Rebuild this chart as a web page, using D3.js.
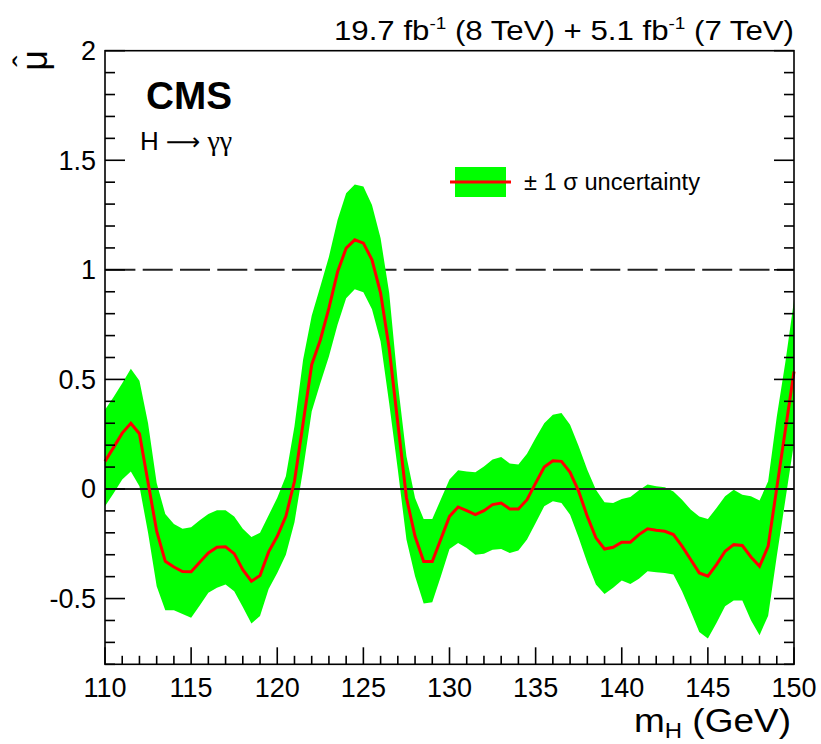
<!DOCTYPE html>
<html>
<head>
<meta charset="utf-8">
<script src="https://cdn.jsdelivr.net/npm/d3@7"></script>
<style>
  body { margin: 0; background: #fff; }
  svg { display: block; }
  text { font-family: "Liberation Sans", Arial, Helvetica, sans-serif; fill: #000; }
</style>
</head>
<body>
<svg id="chart" width="821" height="744"></svg>
<script>
// ---- data ----
const massPoints = [110,110.5,111,111.5,112,112.5,113,113.5,114,114.5,115,115.5,116,116.5,117,117.5,118,118.5,119,119.5,
  120,120.5,121,121.5,122,122.5,123,123.5,124,124.5,125,125.5,126,126.5,127,127.5,128,128.5,129,129.5,
  130,130.5,131,131.5,132,132.5,133,133.5,134,134.5,135,135.5,136,136.5,137,137.5,138,138.5,139,139.5,
  140,140.5,141,141.5,142,142.5,143,143.5,144,144.5,145,145.5,146,146.5,147,147.5,148,148.5,149,149.5,150];
const muBestFit = [0.126,0.19,0.255,0.30,0.252,0.03,-0.193,-0.33,-0.356,-0.377,-0.378,-0.334,-0.292,-0.266,-0.264,-0.295,-0.368,-0.421,-0.395,-0.287,
  -0.216,-0.125,0.035,0.30,0.567,0.68,0.825,0.99,1.099,1.137,1.122,1.046,0.894,0.64,0.30,-0.04,-0.216,-0.331,-0.331,-0.228,
  -0.125,-0.082,-0.099,-0.117,-0.099,-0.071,-0.064,-0.091,-0.091,-0.049,0.027,0.10,0.129,0.126,0.076,-0.011,-0.125,-0.223,-0.274,-0.266,
  -0.243,-0.243,-0.208,-0.182,-0.188,-0.193,-0.208,-0.261,-0.322,-0.383,-0.398,-0.345,-0.284,-0.254,-0.258,-0.31,-0.353,-0.261,0.005,0.27,0.536];
const muLow = [-0.079,-0.02,0.043,0.08,0.012,-0.2,-0.444,-0.553,-0.553,-0.57,-0.588,-0.532,-0.474,-0.451,-0.436,-0.467,-0.538,-0.614,-0.58,-0.456,
  -0.383,-0.30,-0.152,0.088,0.354,0.483,0.605,0.75,0.87,0.912,0.898,0.82,0.673,0.39,0.088,-0.231,-0.398,-0.523,-0.517,-0.398,
  -0.274,-0.246,-0.269,-0.30,-0.295,-0.277,-0.274,-0.292,-0.281,-0.231,-0.155,-0.079,-0.056,-0.064,-0.117,-0.223,-0.337,-0.436,-0.479,-0.451,
  -0.418,-0.433,-0.41,-0.375,-0.38,-0.383,-0.39,-0.467,-0.558,-0.653,-0.682,-0.611,-0.535,-0.509,-0.509,-0.599,-0.667,-0.578,-0.307,-0.049,0.21];
const muHigh = [0.362,0.42,0.483,0.549,0.494,0.30,0.027,-0.114,-0.16,-0.182,-0.175,-0.143,-0.114,-0.097,-0.097,-0.125,-0.182,-0.219,-0.20,-0.12,
  -0.04,0.058,0.286,0.59,0.79,0.924,1.06,1.228,1.35,1.39,1.38,1.296,1.144,0.894,0.483,0.149,-0.041,-0.137,-0.137,-0.047,
  0.043,0.085,0.08,0.076,0.103,0.134,0.146,0.116,0.112,0.161,0.233,0.30,0.339,0.347,0.293,0.195,0.088,-0.003,-0.06,-0.064,
  -0.046,-0.036,-0.006,0.02,0.012,0.008,-0.011,-0.049,-0.094,-0.125,-0.137,-0.087,-0.033,-0.003,-0.026,-0.033,-0.053,0.035,0.33,0.58,0.86];
const xTickValues = [110,115,120,125,130,135,140,145,150];
const xTickLabels = ["110","115","120","125","130","135","140","145","150"];
const yTickValues = [-0.5,0,0.5,1,1.5,2];
const yTickLabels = ["-0.5","0","0.5","1","1.5","2"];
const referenceLines = [0, 1];

// ---- layout ----
const svg = d3.select("#chart");
const x = d3.scaleLinear().domain([110,150]).range([105,794]);
const y = d3.scaleLinear().domain([-0.8,2]).range([664.3,50.7]);

const rows = massPoints.map((m,i)=>({m, c: muBestFit[i], lo: muLow[i], hi: muHigh[i]}));

// dashed line at mu = 1 (beneath the band)
svg.append("line")
  .attr("x1", x(110)).attr("x2", x(150))
  .attr("y1", y(referenceLines[1])).attr("y2", y(referenceLines[1]))
  .attr("stroke", "#222").attr("stroke-width", 2)
  .attr("stroke-dasharray", "30,7.3").attr("stroke-dashoffset", -0.4);

// band
const area = d3.area().x(d=>x(d.m)).y0(d=>y(d.lo)).y1(d=>y(d.hi));
svg.append("path").datum(rows).attr("d", area).attr("fill", "#00ff00");

// zero line
svg.append("line")
  .attr("x1", x(110)).attr("x2", x(150))
  .attr("y1", y(referenceLines[0])).attr("y2", y(referenceLines[0]))
  .attr("stroke", "#222").attr("stroke-width", 2);

// central line
const line = d3.line().x(d=>x(d.m)).y(d=>y(d.c));
svg.append("path").datum(rows).attr("d", line)
  .attr("fill","none").attr("stroke","#ff0000").attr("stroke-width",3).attr("stroke-linejoin","miter");

// ---- frame and ticks ----
const frame = svg.append("g").attr("stroke","#000").attr("stroke-width",1.6).attr("fill","none");
frame.append("rect").attr("x", x(110)).attr("y", y(2)).attr("width", x(150)-x(110)).attr("height", y(-0.8)-y(2));

const yMinor = d3.range(-8, 21).map(k => k/10);
yMinor.forEach(v => {
  const major = Math.abs(v*2 - Math.round(v*2)) < 1e-6;
  const len = major ? 20 : 10;
  frame.append("line").attr("x1", x(110)).attr("x2", x(110)+len).attr("y1", y(v)).attr("y2", y(v));
  frame.append("line").attr("x1", x(150)).attr("x2", x(150)-len).attr("y1", y(v)).attr("y2", y(v));
});
d3.range(110, 151, 1).forEach(v => {
  const len = (v % 5 === 0) ? 17 : 8.5;
  frame.append("line").attr("x1", x(v)).attr("x2", x(v)).attr("y1", y(-0.8)).attr("y2", y(-0.8)-len);
});

// tick labels
svg.append("g").selectAll("text").data(yTickValues).join("text")
  .attr("x", 96).attr("y", d => y(d) + 9.5)
  .attr("text-anchor","end").attr("font-size", 27)
  .text((d,i) => yTickLabels[i]);
svg.append("g").selectAll("text").data(xTickValues).join("text")
  .attr("x", d => x(d)).attr("y", 697)
  .attr("text-anchor","middle").attr("font-size", 27)
  .text((d,i) => xTickLabels[i]);

// axis titles
const xt = svg.append("text").attr("x", 791).attr("y", 732).attr("text-anchor","end").attr("font-size", 34)
  .attr("textLength", 157).attr("lengthAdjust", "spacingAndGlyphs");
xt.append("tspan").text("m");
xt.append("tspan").attr("font-size", 22).attr("dy", 6).text("H");
xt.append("tspan").attr("dy", -6).text(" (GeV)");

svg.append("text").attr("transform","translate(47,50) rotate(-90)")
  .attr("text-anchor","end").attr("font-size", 36).text("μ");
svg.append("text").attr("transform","translate(37,61) rotate(-90)")
  .attr("text-anchor","middle").attr("font-size", 34).text("ˆ");

// top luminosity text
const lumi = svg.append("text").attr("x", 794).attr("y", 40).attr("text-anchor","end").attr("font-size", 28)
  .attr("textLength", 460).attr("lengthAdjust", "spacingAndGlyphs");
lumi.append("tspan").text("19.7 fb");
lumi.append("tspan").attr("font-size", 17).attr("dy", -11).text("-1");
lumi.append("tspan").attr("dy", 11).text(" (8 TeV) + 5.1 fb");
lumi.append("tspan").attr("font-size", 17).attr("dy", -11).text("-1");
lumi.append("tspan").attr("dy", 11).text(" (7 TeV)");

// CMS label
svg.append("text").attr("x", 146).attr("y", 109).attr("font-size", 38).attr("font-weight","bold")
  .attr("textLength", 86).attr("lengthAdjust", "spacingAndGlyphs").text("CMS");
const hgg = svg.append("text").attr("x", 140).attr("y", 150).attr("font-size", 26);
hgg.append("tspan").text("H ");
hgg.append("tspan").attr("font-family", "DejaVu Sans").attr("font-size", 24).text("⟶");
hgg.append("tspan").attr("font-family", "Liberation Serif").attr("font-size", 28).text(" γγ");

// legend
const lg = svg.append("g");
lg.append("rect").attr("x", 455).attr("y", 167).attr("width", 51).attr("height", 30).attr("fill","#00ff00");
lg.append("line").attr("x1", 450).attr("x2", 511).attr("y1", 182).attr("y2", 182).attr("stroke","#ff0000").attr("stroke-width",3);
lg.append("text").attr("x", 524).attr("y", 190).attr("font-size", 23)
  .attr("textLength", 176).attr("lengthAdjust", "spacingAndGlyphs").text("± 1 σ uncertainty");
</script>
</body>
</html>
